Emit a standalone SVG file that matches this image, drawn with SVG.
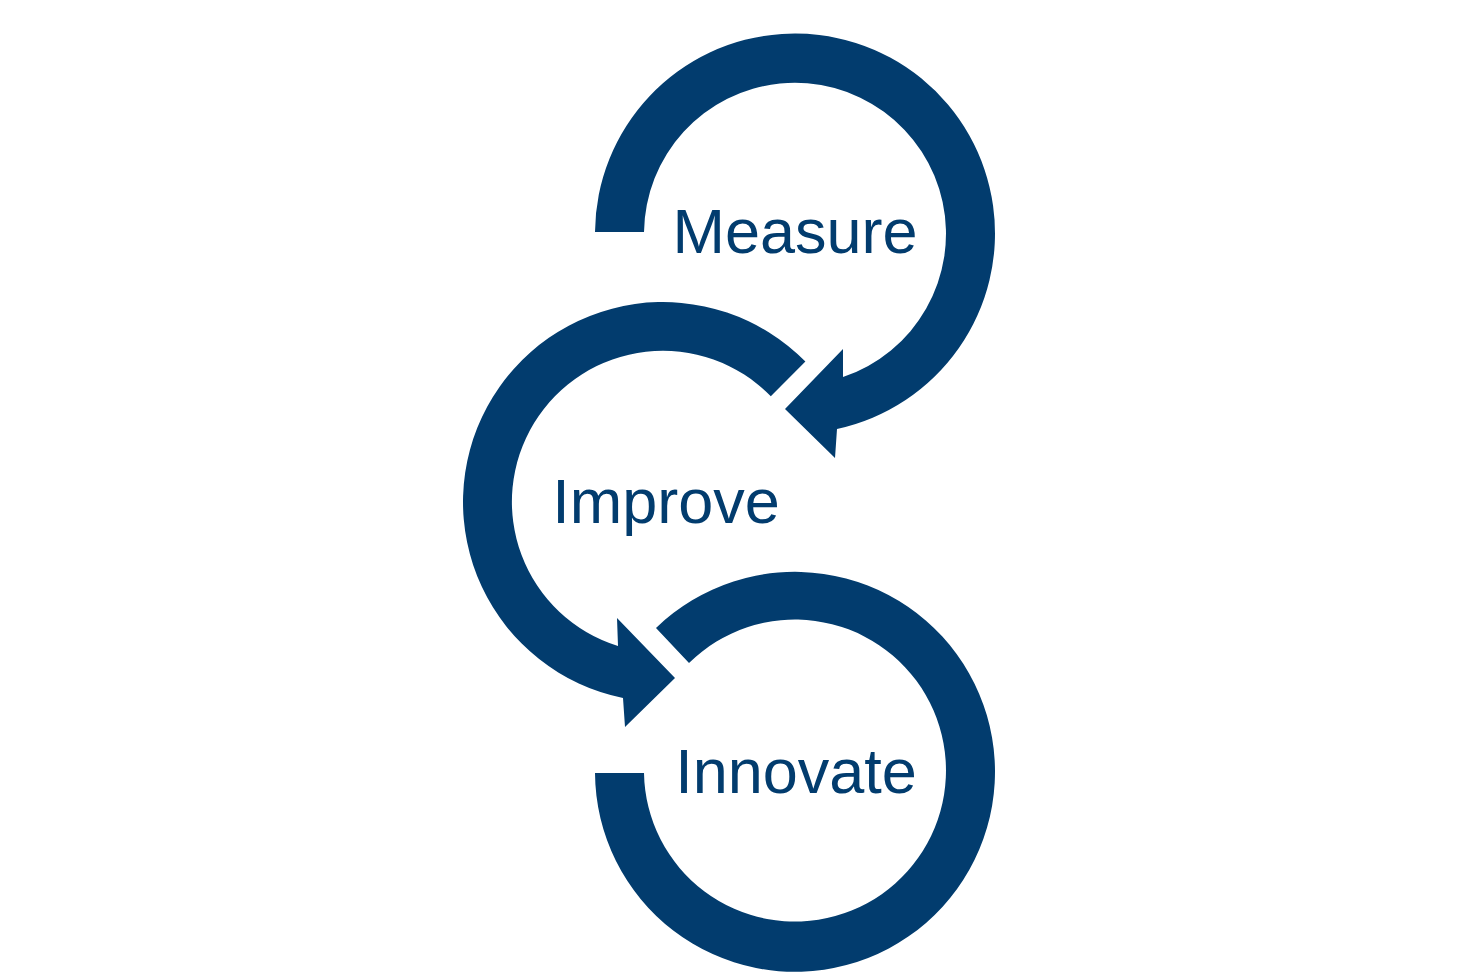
<svg xmlns="http://www.w3.org/2000/svg" width="1460" height="974" viewBox="0 0 1460 974">
<style>
.arrow{fill:#023C6E;stroke:none}
.lbl{font-family:"Liberation Sans",Arial,sans-serif;font-size:63px;fill:#023C6E;text-anchor:middle}
</style>
<rect width="1460" height="974" fill="#ffffff"/>
<g id="connectors">
<path class="arrow" d="M595,232 A200,200 0 1 1 837,429 L835,458 L785,409 L843,349 L843,377 A151,151 0 1 0 644,232 Z"/>
<path class="arrow" d="M805.4,361.6 A200,200 0 1 0 623,698 L625,727 L675,678 L617,618 L618,646 A151,151 0 1 1 770.8,396.2 Z"/>
<path class="arrow" d="M656,628 A200,200 0 1 1 595,773 L644,773 A151,151 0 1 0 689,663 Z"/>
</g>
<g id="node-measure"><text class="lbl" x="795" y="253">Measure</text></g>
<g id="node-improve"><text class="lbl" x="666" y="523">Improve</text></g>
<g id="node-innovate"><text class="lbl" x="796" y="793">Innovate</text></g>
</svg>
